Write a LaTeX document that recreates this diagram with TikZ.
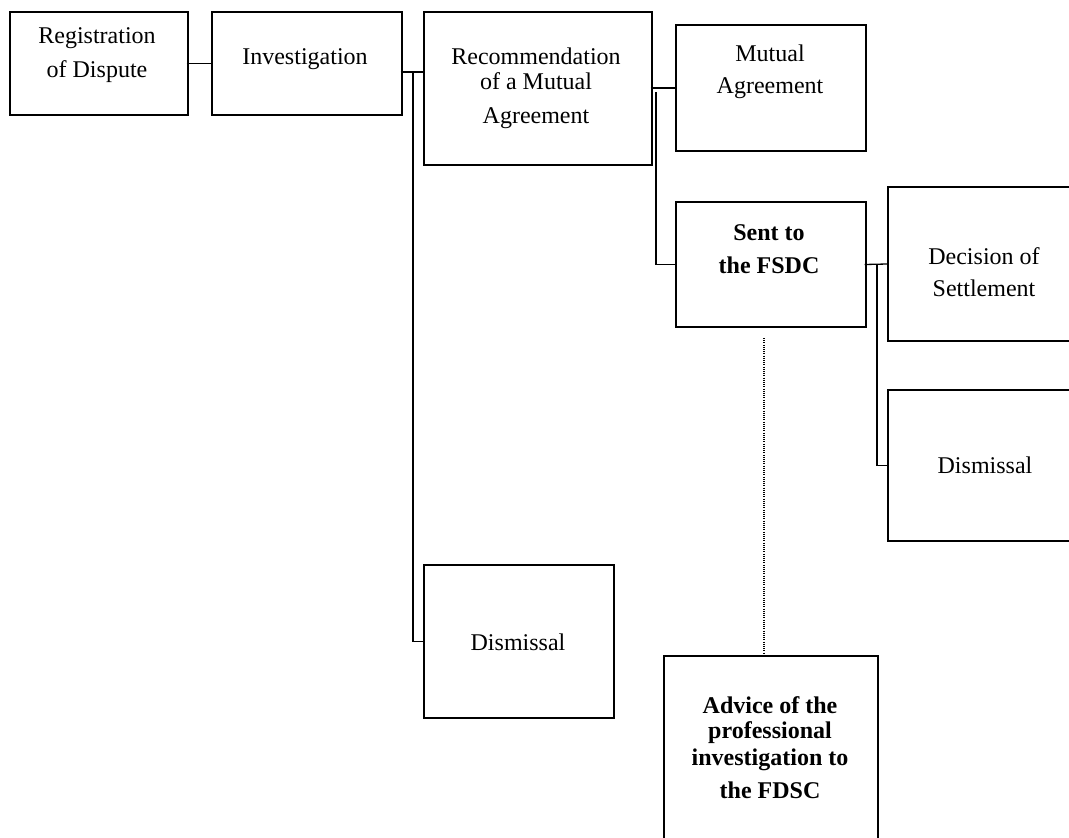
\documentclass[tikz,border=0pt]{standalone}
\usepackage{fontspec}
\setmainfont{Liberation Serif}
\begin{document}
\begin{tikzpicture}[x=1pt,y=-1pt,
  box/.style={draw,line width=1.3pt,rectangle,inner sep=0pt},
  txt/.style={anchor=base,inner sep=0pt,font=\fontsize{24}{28}\selectfont},
  btxt/.style={txt,font=\fontsize{24}{28}\selectfont\bfseries},
  link/.style={line width=1.3pt}]
\useasboundingbox (0,0) rectangle (1069,838);
\fill[white] (0,0) rectangle (1069,838);
% boxes
\node[box,minimum width=178pt,minimum height=103pt] (reg) at (99,63.5) {};
\node[box,minimum width=190pt,minimum height=103pt] (inv) at (307,63.5) {};
\node[box,minimum width=228pt,minimum height=153pt] (rec) at (538,88.5) {};
\node[box,minimum width=190pt,minimum height=126pt] (mut) at (771,88) {};
\node[box,minimum width=190pt,minimum height=125pt] (sent) at (771,264.5) {};
\node[box,minimum width=192pt,minimum height=154pt] (dec) at (984,264) {};
\node[box,minimum width=192pt,minimum height=151pt] (dis2) at (984,465.5) {};
\node[box,minimum width=190pt,minimum height=153pt] (dis1) at (519,641.5) {};
\node[box,minimum width=214pt,minimum height=184pt] (adv) at (771,748) {};
% texts
\node[txt] (reg1) at (97,43) {Registration};
\node[txt] (reg2) at (97,77) {of Dispute};
\node[txt] (inv1) at (305,64) {Investigation};
\node[txt] (rec1) at (536,64) {Recommendation};
\node[txt] (rec2) at (536,89) {of a Mutual};
\node[txt] (rec3) at (536,123) {Agreement};
\node[txt] (mut1) at (770,61) {Mutual};
\node[txt] (mut2) at (770,93) {Agreement};
\node[btxt] (sent1) at (769,240) {Sent to};
\node[btxt] (sent2) at (769,273) {the FSDC};
\node[txt] (dec1) at (984,264) {Decision of};
\node[txt] (dec2) at (984,296) {Settlement};
\node[txt] (dis2t) at (985,473) {Dismissal};
\node[txt] (dis1t) at (518,650) {Dismissal};
\node[btxt] (adv1) at (770,713) {Advice of the};
\node[btxt] (adv2) at (770,738) {professional};
\node[btxt] (adv3) at (770,765) {investigation to};
\node[btxt] (adv4) at (770,798) {the FDSC};
% connectors
\coordinate (b1) at (413,72);
\coordinate (b2) at (656,92);
\coordinate (b3) at (877,264);
\coordinate (d1) at (764,338);
\draw[link] ([xshift=-2pt]reg.east) -- (inv.west);
\draw[link] ([xshift=-2pt]inv.east |- b1) -- (rec.west |- b1);
\draw[link] (b1) -- (b1 |- dis1.west) -- (dis1.west);
\draw[link] ([xshift=-2pt]rec.east |- mut.west) -- (mut.west);
\draw[link] (b2) -- (b2 |- sent.west) -- (sent.west);
\draw[link] ([xshift=-2pt]sent.east) -- (dec.west);
\draw[link] (b3) -- (b3 |- dis2.west) -- (dis2.west);
\draw[line width=1.2pt,dash pattern=on 1pt off 1.2pt] (d1) -- (d1 |- adv.north);
\end{tikzpicture}
\end{document}
